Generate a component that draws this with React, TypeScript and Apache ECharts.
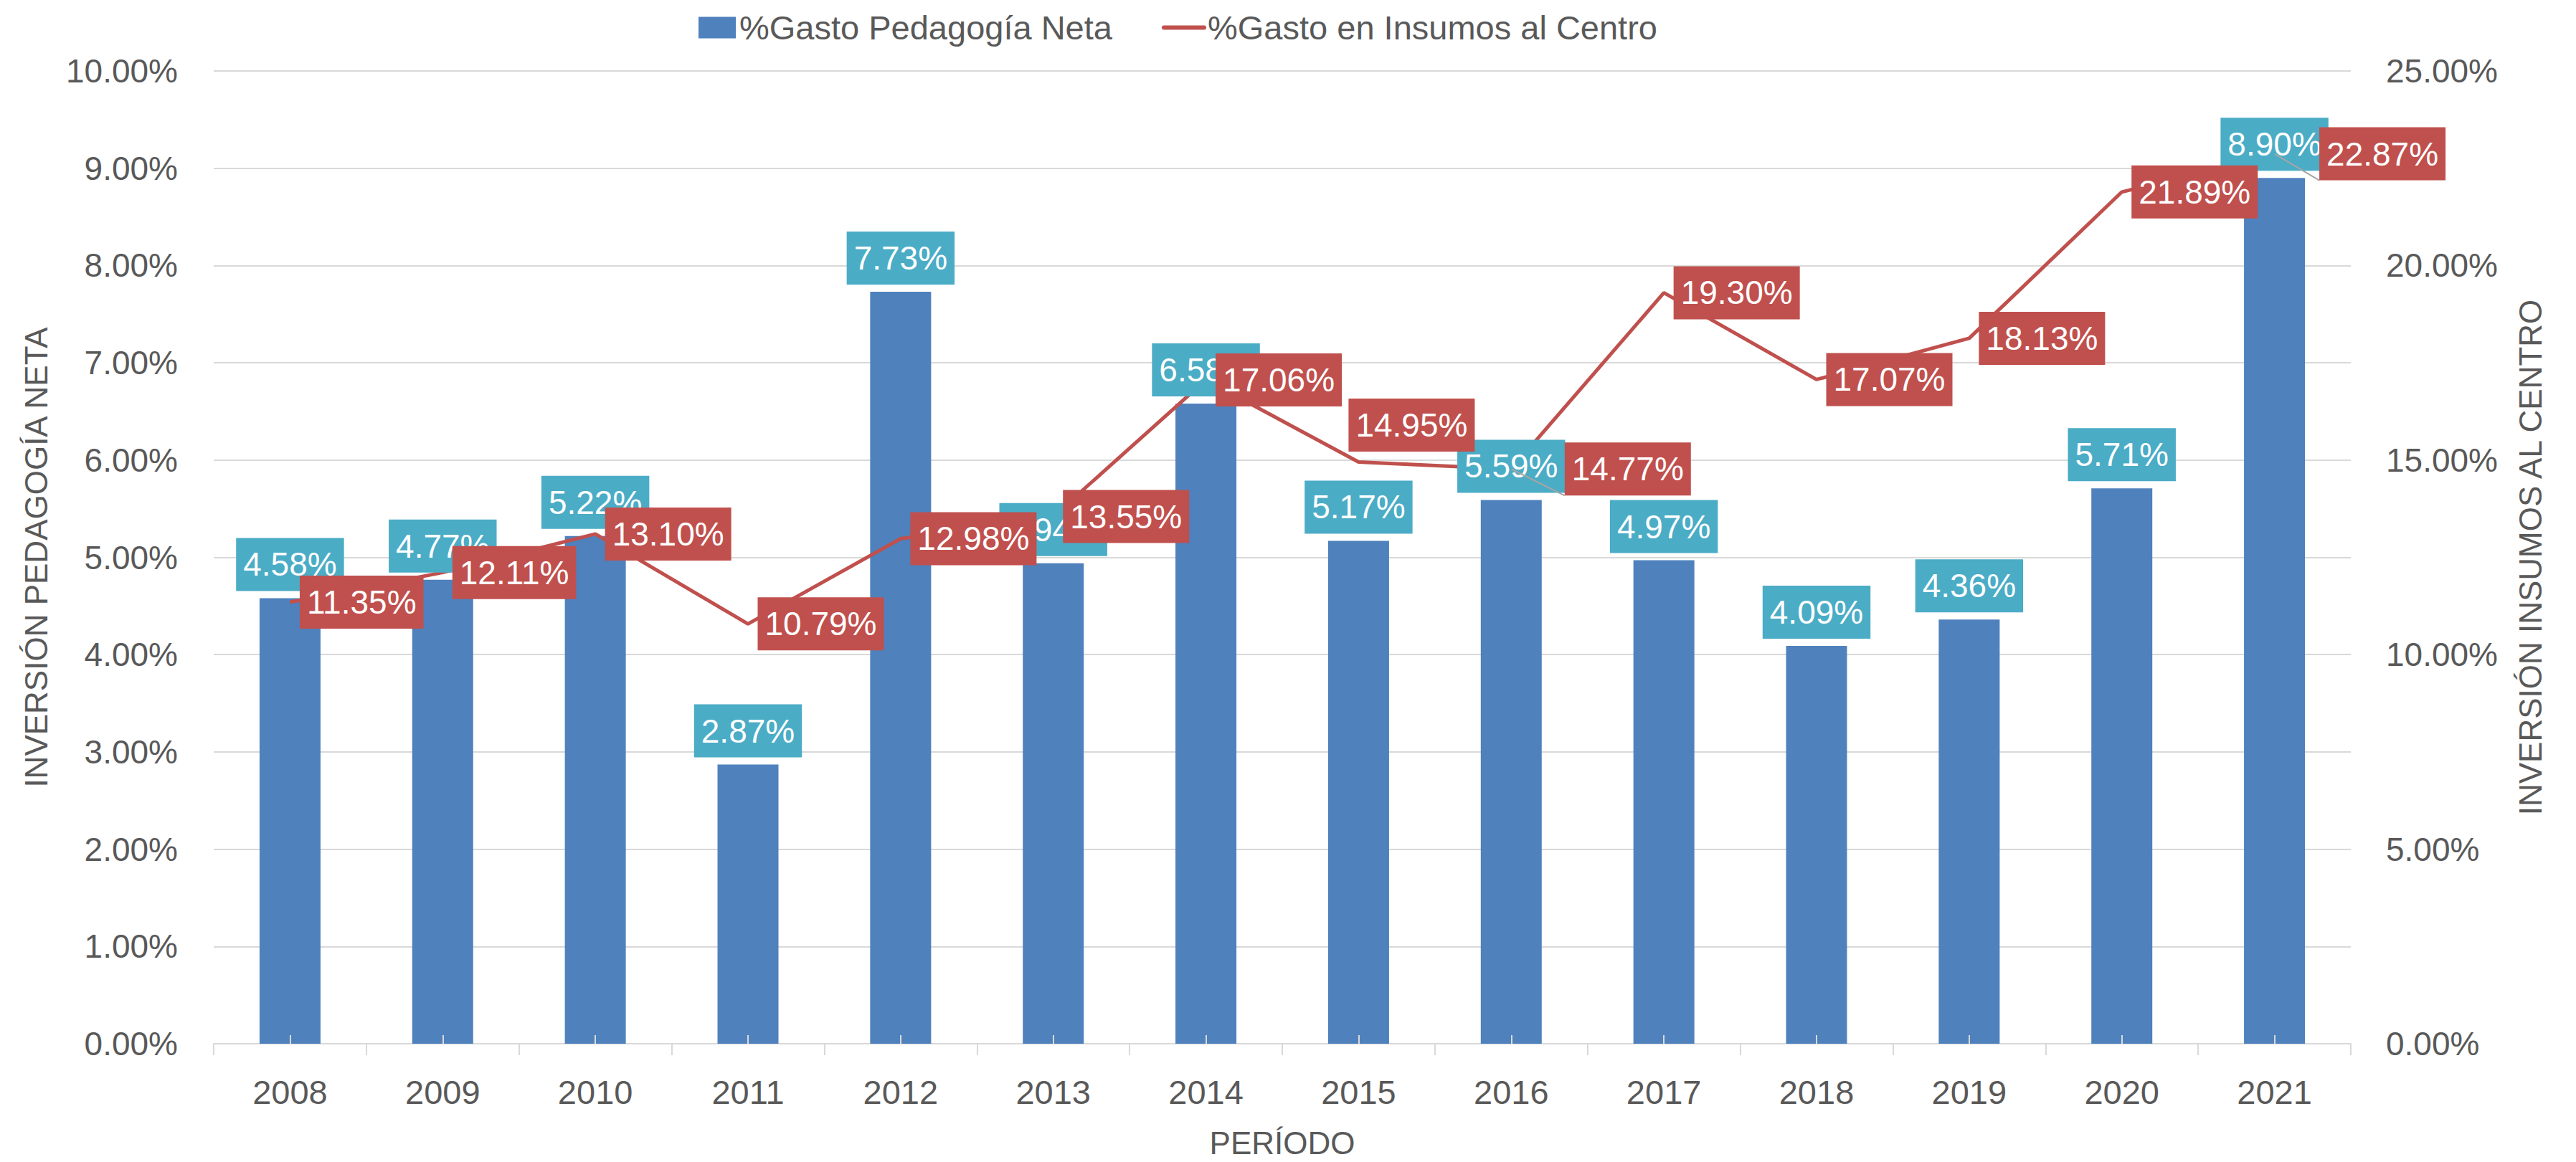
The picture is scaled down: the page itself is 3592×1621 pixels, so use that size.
import React, { useEffect, useRef } from 'react';
import * as echarts from 'echarts';

// ---- data ----
const years = ['2008', '2009', '2010', '2011', '2012', '2013', '2014', '2015', '2016', '2017', '2018', '2019', '2020', '2021'];
const gastoPedagogiaNeta = [4.58, 4.77, 5.22, 2.87, 7.73, 4.94, 6.58, 5.17, 5.59, 4.97, 4.09, 4.36, 5.71, 8.9];
const gastoInsumosCentro = [11.35, 12.11, 13.1, 10.79, 12.98, 13.55, 17.06, 14.95, 14.77, 19.3, 17.07, 18.13, 21.89, 22.87];

const seriesNames = ['%Gasto Pedagogía Neta', '%Gasto en Insumos al Centro'];
const axisTitles = { x: 'PERÍODO', left: 'INVERSIÓN PEDAGOGÍA NETA', right: 'INVERSIÓN INSUMOS AL CENTRO' };

// ---- label placement (kept apart from the values) ----
// 'right' = to the right of the point, 'above' = above & shifted right, 'leader' = far right with guide line
const lineLabelPlacement = ['right', 'right', 'right', 'right', 'right', 'right', 'right', 'above', 'leader', 'right', 'right', 'right', 'right', 'leader'];
const lineLabelDistance = [13, 13, 13, 13, 13, 13, 13, 14, 74, 13, 13, 13, 13, 62];

// ---- styles ----
const FONT = 'Liberation Sans';
const TEXT = '#595959';
const GRID = '#D9D9D9';
const BAR = '#4F81BD';
const LINE = '#C0504D';
const BAR_LABEL_BG = '#4BACC6';

const pct = (v: number) => v.toFixed(2) + '%';

export default function App() {
  const ref = useRef<HTMLDivElement>(null);

  useEffect(() => {
    document.body.style.margin = '0';
    if (!ref.current) return;
    const chart = echarts.init(ref.current, undefined, { renderer: 'svg' });

    const labelBox = {
      show: true,
      color: '#FFFFFF',
      fontFamily: FONT,
      fontSize: 46,
      lineHeight: 56,
      padding: [9, 10, 9, 10],
      formatter: (p: any) => pct(p.value),
    };

    const lineLabelData = gastoInsumosCentro.map((v, i) => {
      const place = lineLabelPlacement[i];
      const d = lineLabelDistance[i];
      if (place === 'above') {
        return { value: v, label: { position: 'top', distance: d, offset: [74, 0] } };
      }
      if (place === 'leader') {
        return {
          value: v,
          label: { position: 'right', distance: d },
          labelLine: { show: true, lineStyle: { color: '#A6A6A6', width: 2 } },
        };
      }
      return { value: v, label: { position: 'right', distance: d } };
    });

    const option: any = {
      animation: false,
      backgroundColor: '#FFFFFF',
      textStyle: { fontFamily: FONT, color: TEXT },
      grid: { left: 298, right: 314, top: 99, bottom: 165, containLabel: false },
      legend: [
        {
          data: [{ name: seriesNames[0], icon: 'rect' }],
          left: 969,
          top: 10,
          itemWidth: 52,
          itemHeight: 30,
          selectedMode: false,
          textStyle: { fontFamily: FONT, fontSize: 47, color: TEXT },
        },
        {
          data: [{ name: seriesNames[1] }],
          left: 1615,
          top: 10,
          itemWidth: 56,
          itemHeight: 30,
          selectedMode: false,
          itemStyle: { opacity: 0 },
          lineStyle: { width: 6, cap: 'round', color: LINE },
          textStyle: { fontFamily: FONT, fontSize: 47, color: TEXT },
        },
      ],
      xAxis: [
        {
          type: 'category',
          data: years,
          boundaryGap: true,
          name: axisTitles.x,
          nameLocation: 'middle',
          nameGap: 116,
          nameTextStyle: { fontFamily: FONT, fontSize: 44, color: TEXT },
          axisLine: { show: true, lineStyle: { color: GRID, width: 2 } },
          axisTick: { show: true, length: 16, lineStyle: { color: GRID, width: 2 } },
          axisLabel: { fontFamily: FONT, fontSize: 47, color: TEXT, margin: 44 },
          splitLine: { show: false },
        },
        {
          type: 'category',
          data: years,
          position: 'bottom',
          boundaryGap: true,
          z: 10,
          axisLine: { show: false },
          axisTick: { show: true, inside: true, alignWithLabel: true, length: 12, lineStyle: { color: GRID, width: 2 } },
          axisLabel: { show: false },
          splitLine: { show: false },
        },
      ],
      yAxis: [
        {
          type: 'value',
          min: 0,
          max: 10,
          interval: 1,
          name: axisTitles.left,
          nameLocation: 'middle',
          nameGap: 226,
          nameTextStyle: { fontFamily: FONT, fontSize: 44, color: TEXT },
          axisLine: { show: false },
          axisTick: { show: false },
          axisLabel: { fontFamily: FONT, fontSize: 46, color: TEXT, margin: 50, formatter: (v: number) => pct(v) },
          splitLine: { show: true, lineStyle: { color: GRID, width: 2 } },
        },
        {
          type: 'value',
          min: 0,
          max: 25,
          interval: 5,
          position: 'right',
          name: axisTitles.right,
          nameLocation: 'middle',
          nameGap: 228,
          nameTextStyle: { fontFamily: FONT, fontSize: 44, color: TEXT },
          axisLine: { show: false },
          axisTick: { show: false },
          axisLabel: { fontFamily: FONT, fontSize: 46, color: TEXT, margin: 49, formatter: (v: number) => pct(v) },
          splitLine: { show: false },
        },
      ],
      series: [
        {
          name: seriesNames[0],
          type: 'bar',
          data: gastoPedagogiaNeta,
          xAxisIndex: 0,
          yAxisIndex: 0,
          barWidth: 85,
          barGap: '-100%',
          itemStyle: { color: BAR },
          z: 2,
          silent: true,
        },
        {
          name: seriesNames[1],
          type: 'line',
          data: gastoInsumosCentro,
          xAxisIndex: 0,
          yAxisIndex: 1,
          symbol: 'none',
          lineStyle: { color: LINE, width: 5 },
          itemStyle: { color: LINE },
          z: 3,
          silent: true,
        },
        {
          name: 'barLabels',
          type: 'bar',
          data: gastoPedagogiaNeta,
          xAxisIndex: 0,
          yAxisIndex: 0,
          barWidth: 85,
          barGap: '-100%',
          itemStyle: { color: 'rgba(0,0,0,0)' },
          label: { ...labelBox, position: 'top', distance: 10, backgroundColor: BAR_LABEL_BG },
          z: 4,
          silent: true,
        },
        {
          name: 'lineLabels',
          type: 'line',
          data: lineLabelData,
          xAxisIndex: 0,
          yAxisIndex: 1,
          symbol: 'circle',
          symbolSize: 1,
          showAllSymbol: true,
          itemStyle: { color: 'rgba(0,0,0,0)' },
          lineStyle: { width: 0, opacity: 0 },
          label: { ...labelBox, position: 'right', distance: 13, backgroundColor: LINE },
          z: 5,
          silent: true,
        },
      ],
    };

    chart.setOption(option);
    return () => chart.dispose();
  }, []);

  return <div ref={ref} style={{ width: 3592, height: 1621 }} />;
}
